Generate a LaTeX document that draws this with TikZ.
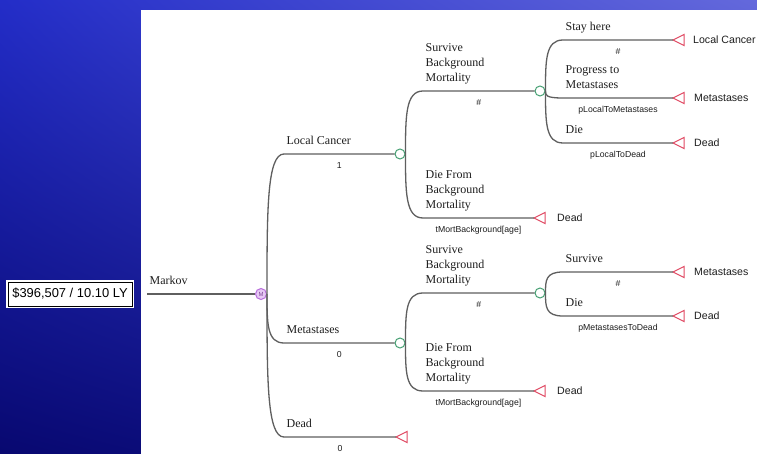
\documentclass[tikz,border=0pt]{standalone}
\usepackage{fontspec}
\setmainfont{Liberation Serif}
\setsansfont{Liberation Sans}
\usetikzlibrary{calc,shadings}

\definecolor{bgUL}{RGB}{35,45,200}
\definecolor{bgUR}{RGB}{100,105,220}
\definecolor{bgLL}{RGB}{8,8,112}
\definecolor{bgLR}{RGB}{20,25,150}
\definecolor{linegray}{RGB}{95,95,95}
\definecolor{chancegreen}{RGB}{70,160,115}
\definecolor{termred}{RGB}{225,75,100}
\definecolor{markovline}{RGB}{185,110,220}
\definecolor{markovfill}{RGB}{230,200,244}
\definecolor{txtdark}{RGB}{30,30,30}

% branch: parent node, start of horizontal run, end of run, label, value
\newcommand\branchline[5]{%
  \draw[br] (#1.east) .. controls ($(#1.east)!0.6!(#1.east |- #2)$) and (#1.east |- #2) .. (#2)
    -- node[brlabel]{#4\strut} node[problabel]{#5} (#3);}

% terminal marker: name, x, y (tip of the triangle)
\newcommand\drawterminal[3]{%
  \coordinate (#1) at (#2,#3);
  \draw[termtri] (#1) -- ++(11,-5.5) -- ++(0,11) -- cycle;}

\begin{document}
\begin{tikzpicture}[x=1pt,y=-1pt,
  br/.style={draw=linegray, line width=1.3pt},
  chance/.style={circle, draw=chancegreen, fill=white, line width=1pt,
    minimum size=10pt, inner sep=0pt},
  markovnode/.style={circle, draw=markovline, fill=markovfill, line width=1pt,
    minimum size=11pt, inner sep=0pt,
    font=\sffamily\fontsize{6}{6}\selectfont, text=markovline!70!black},
  termtri/.style={draw=termred, fill=white, line width=1pt, line join=miter},
  brlabel/.style={pos=0, anchor=south west, inner sep=0pt, xshift=2pt, yshift=4pt,
    align=left, font=\fontsize{12}{15}\selectfont, text=txtdark},
  problabel/.style={midway, anchor=base, inner sep=0pt, yshift=-14.5pt,
    font=\sffamily\fontsize{8.7}{10}\selectfont, text=txtdark},
  termlabel/.style={anchor=west, inner sep=0pt,
    font=\sffamily\fontsize{10.6}{13}\selectfont, text=txtdark},
]
\useasboundingbox (0,0) rectangle (757,454);
\clip (0,0) rectangle (757,454);

% slide background and white canvas
\shade[upper left=bgUL, upper right=bgUR, lower left=bgLL, lower right=bgLR]
  (0,0) rectangle (757,454);
\fill[white] (141,10) rectangle (757,454);

% result box
\node[fill=white, minimum width=128pt, minimum height=28pt, inner sep=0pt] (resbg) at (70,294) {};
\node[draw=black, line width=0.8pt, minimum width=124pt, minimum height=24pt, inner sep=0pt,
  font=\sffamily\fontsize{12.9}{14}\selectfont] (result) at (70,294) {\$396,507 / 10.10 LY};

% Markov node
\coordinate (root) at (147,294);
\node[markovnode] (m) at (261,294) {M};
\draw[br] (root) -- node[brlabel]{Markov\strut} (m.west);

% chance nodes
\node[chance] (c1) at (400,154) {};
\node[chance] (c2) at (540,91) {};
\node[chance] (c3) at (400,343) {};
\node[chance] (c4) at (540,293) {};

% starts of the horizontal runs
\coordinate (s-lc) at (284,154);
\coordinate (s-me) at (284,343);
\coordinate (s-de) at (284,437);
\coordinate (s-c1a) at (423,91);
\coordinate (s-c1b) at (423,218);
\coordinate (s-c2a) at (563,40);
\coordinate (s-c2b) at (563,98);
\coordinate (s-c2c) at (563,143);
\coordinate (s-c3a) at (423,293);
\coordinate (s-c3b) at (423,391);
\coordinate (s-c4a) at (563,272);
\coordinate (s-c4b) at (563,316);

% terminal nodes
\drawterminal{t-de}{396}{437}
\drawterminal{t-c1b}{534}{218}
\drawterminal{t-c2a}{673}{40}
\drawterminal{t-c2b}{673}{98}
\drawterminal{t-c2c}{673}{143}
\drawterminal{t-c3b}{534}{391}
\drawterminal{t-c4a}{673}{272}
\drawterminal{t-c4b}{673}{316}

\node[termlabel] (l-c1b) at ($(t-c1b)+(23,0)$) {Dead};
\node[termlabel] (l-c2a) at ($(t-c2a)+(20,0)$) {Local Cancer};
\node[termlabel] (l-c2b) at ($(t-c2b)+(21,0)$) {Metastases};
\node[termlabel] (l-c2c) at ($(t-c2c)+(21,0)$) {Dead};
\node[termlabel] (l-c3b) at ($(t-c3b)+(23,0)$) {Dead};
\node[termlabel] (l-c4a) at ($(t-c4a)+(21,0)$) {Metastases};
\node[termlabel] (l-c4b) at ($(t-c4b)+(21,0)$) {Dead};

% Markov states
\branchline{m}{s-lc}{c1.west}{Local Cancer}{1}
\branchline{m}{s-me}{c3.west}{Metastases}{0}
\branchline{m}{s-de}{t-de}{Dead}{0}

% Local Cancer cycle
\branchline{c1}{s-c1a}{c2.west}{Survive\\Background\\Mortality}{\#}
\branchline{c1}{s-c1b}{t-c1b}{Die From\\Background\\Mortality}{tMortBackground[age]}
\branchline{c2}{s-c2a}{t-c2a}{Stay here}{\#}
\branchline{c2}{s-c2b}{t-c2b}{Progress to\\Metastases}{pLocalToMetastases}
\branchline{c2}{s-c2c}{t-c2c}{Die}{pLocalToDead}

% Metastases cycle
\branchline{c3}{s-c3a}{c4.west}{Survive\\Background\\Mortality}{\#}
\branchline{c3}{s-c3b}{t-c3b}{Die From\\Background\\Mortality}{tMortBackground[age]}
\branchline{c4}{s-c4a}{t-c4a}{Survive}{\#}
\branchline{c4}{s-c4b}{t-c4b}{Die}{pMetastasesToDead}
\end{tikzpicture}
\end{document}
